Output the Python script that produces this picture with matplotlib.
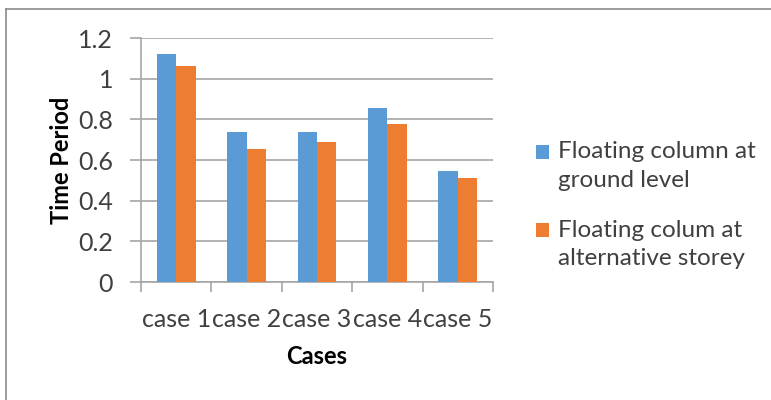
import matplotlib
matplotlib.use("Agg")
import matplotlib.pyplot as plt
from matplotlib.lines import Line2D
from matplotlib.patches import Rectangle
import numpy as np

categories = ["case 1", "case 2", "case 3", "case 4", "case 5"]
ground_level = [1.12, 0.74, 0.74, 0.855, 0.545]
alt_storey = [1.06, 0.655, 0.69, 0.778, 0.51]
series_names = ["Floating column at\nground level", "Floating colum at\nalternative storey"]
y_ticks = [0, 0.2, 0.4, 0.6, 0.8, 1.0, 1.2]
y_tick_labels = ["0", "0.2", "0.4", "0.6", "0.8", "1", "1.2"]

BLUE = "#5B9BD5"
ORANGE = "#ED7D31"
GRID = "#A6A6A6"
TEXT = "#404040"

plt.rcParams["font.family"] = ["Lato", "DejaVu Sans"]

W, H = 771, 400
fig = plt.figure(figsize=(W / 100, H / 100), dpi=100)
ax = fig.add_axes([141 / W, 1 - 282 / H, (493 - 141) / W, (282 - 38) / H])

x = np.arange(len(categories))
w = 0.275
ax.bar(x - w / 2, ground_level, w, color=BLUE, label=series_names[0], zorder=3)
ax.bar(x + w / 2, alt_storey, w, color=ORANGE, label=series_names[1], zorder=3)

ax.set_xlim(-0.5, len(categories) - 0.5)
ax.set_ylim(0, 1.2)
ax.set_yticks(y_ticks)
ax.set_yticklabels(y_tick_labels)
ax.yaxis.grid(True, color=GRID, linewidth=1.2, zorder=0)
ax.set_axisbelow(True)

# category labels sit between boundary tick marks
ax.set_xticks(x)
ax.set_xticklabels(categories)
ax.set_xticks(np.arange(len(categories) + 1) - 0.5, minor=True)
ax.tick_params(axis="x", which="major", length=0, pad=19, labelsize=18, labelcolor=TEXT)
ax.tick_params(axis="x", which="minor", length=7, width=1.2, color=GRID, direction="out")
ax.tick_params(axis="y", length=8, width=1.2, color=GRID, pad=12, labelsize=18, labelcolor=TEXT)

for side in ["top", "right"]:
    ax.spines[side].set_visible(False)
for side in ["left", "bottom"]:
    ax.spines[side].set_color(GRID)
    ax.spines[side].set_linewidth(1.2)

ax.set_ylabel("Time Period", fontsize=17, fontweight="bold", color="black", labelpad=4)
ax.set_xlabel("Cases", fontsize=17, fontweight="bold", color="black", labelpad=10)

# legend: square key aligned with the first line of each two-line entry
def fx(px):
    return px / W

def fy(py):
    return 1 - py / H

legend_colors = [BLUE, ORANGE]
first_baselines = [158.5, 236.5]
line_step = 28.5
for name, color, base in zip(series_names, legend_colors, first_baselines):
    fig.add_artist(Rectangle((fx(535.7), fy(base)), 13.5 / W, 13.5 / H,
                             transform=fig.transFigure, facecolor=color, edgecolor="none"))
    for i, line in enumerate(name.split("\n")):
        fig.text(fx(557.5), fy(base + i * line_step), line, fontsize=17.5, color=TEXT,
                 ha="left", va="baseline")

# outer chart frame
fig.add_artist(Line2D([fx(6), 1.0], [fy(9), fy(9)], transform=fig.transFigure,
                      color="#8C8C8C", linewidth=1.2))
fig.add_artist(Line2D([fx(6), fx(6)], [0.0, fy(9)], transform=fig.transFigure,
                      color="#8C8C8C", linewidth=1.2))

fig.savefig("out.png", dpi=100)
